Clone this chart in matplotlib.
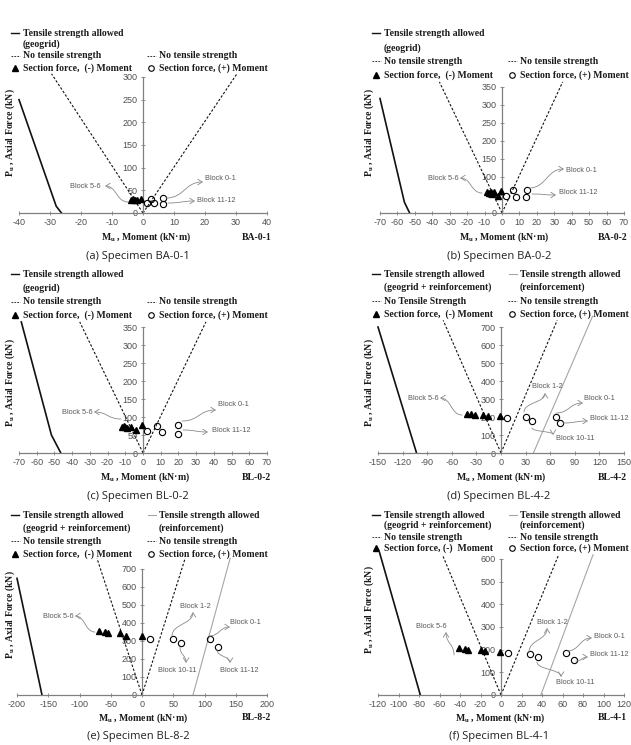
import matplotlib
matplotlib.use('Agg')
import matplotlib.pyplot as plt
from matplotlib.lines import Line2D
from matplotlib.patches import FancyArrowPatch
from matplotlib.path import Path
from matplotlib.transforms import Affine2D

# ---------------- data ----------------
# Panel (a) BA-0-1
a_tri_M = [-4.0, -3.3, -2.6, -1.9, -0.5]
a_tri_P = [29, 30, 28, 28, 30]
a_cir_M = [1.2, 2.6, 3.6, 6.5, 6.5]
a_cir_P = [23, 31, 23, 32, 20]
a_ten_M = [-40, -28, -26.3]
a_ten_P = [250, 15, 0]
a_ntl_M = [0, -29.5]
a_ntr_M = [0, 30.3]
a_nt_P = [0, 307]

# Panel (b) BA-0-2
b_tri_M = [-8.5, -7.5, -6.5, -5.5, -4.5, -2.5, -0.3]
b_tri_P = [58, 55, 58, 54, 57, 47, 60]
b_cir_M = [2.2, 6.2, 8.0, 14.0, 14.6]
b_cir_P = [47, 63, 45, 44, 65]
b_ten_M = [-70, -56, -53]
b_ten_P = [318, 30, 0]
b_ntl_M = [0, -35.9]
b_ntr_M = [0, 34.8]
b_nt_P = [0, 364]

# Panel (c) BL-0-2
c_tri_M = [-12, -11, -10, -9, -7, -4, -0.6]
c_tri_P = [73, 74, 72, 70, 73, 63, 77]
c_cir_M = [2.5, 8.1, 10.6, 19.6, 19.6]
c_cir_P = [60, 74, 57, 77, 54]
c_ten_M = [-68.7, -51.7, -46.4]
c_ten_P = [364, 50, 0]
c_ntl_M = [0, -35.7]
c_ntr_M = [0, 35.5]
c_nt_P = [0, 364]

# Panel (d) BL-4-2
d_tri_M = [-41, -37, -32, -22, -16, -1]
d_tri_P = [218, 216, 210, 212, 203, 207]
d_cir_M = [7, 30, 37.5, 66.5, 72.5]
d_cir_P = [194, 200, 178, 200, 167]
d_ten_M = [-150, -103]
d_ten_P = [700, 0]
d_rei_M = [39.5, 111.7]
d_rei_P = [0, 760]
d_ntl_M = [0, -70.5]
d_ntr_M = [0, 68.5]
d_nt_P = [0, 737]

# Panel (e) BL-8-2
e_tri_M = [-69, -59, -54, -35, -25, 0]
e_tri_P = [354, 351, 346, 342, 328, 330]
e_cir_M = [13.5, 49.5, 63, 109, 122]
e_cir_P = [311, 311, 290, 313, 265]
e_ten_M = [-200, -160]
e_ten_P = [648, 0]
e_rei_M = [81.6, 141]
e_rei_P = [0, 759]
e_ntl_M = [0, -72]
e_ntr_M = [0, 69]
e_nt_P = [0, 759]

# Panel (f) BL-4-1
f_tri_M = [-41, -35, -32, -20, -16, -1]
f_tri_P = [206, 203, 198, 200, 195, 190]
f_cir_M = [7, 28, 36, 63, 71]
f_cir_P = [185, 180, 167, 185, 154]
f_ten_M = [-118.4, -78.7]
f_ten_P = [627, 0]
f_rei_M = [38.9, 89.8]
f_rei_P = [0, 619]
f_ntl_M = [0, -57.2]
f_ntr_M = [0, 56.3]
f_nt_P = [0, 619]

captions = ["(a) Specimen BA-0-1", "(b) Specimen BA-0-2", "(c) Specimen BL-0-2",
            "(d) Specimen BL-4-2", "(e) Specimen BL-8-2", "(f) Specimen BL-4-1"]
tags = ["BA-0-1", "BA-0-2", "BL-0-2", "BL-4-2", "BL-8-2", "BL-4-1"]

# ---------------- style ----------------
W, H = 631, 745
plt.rcParams['axes.unicode_minus'] = False
plt.rcParams['mathtext.fontset'] = 'custom'
plt.rcParams['mathtext.rm'] = 'Liberation Serif:bold'
plt.rcParams['mathtext.it'] = 'Liberation Serif:bold'
plt.rcParams['mathtext.bf'] = 'Liberation Serif:bold'

fig = plt.figure(figsize=(W / 100, H / 100), dpi=100)
pix = Affine2D().scale(1 / W, -1 / H).translate(0, 1) + fig.transFigure

SERIF = 'Liberation Serif'
TXT = '#1a1a1a'
AXC = '#808080'
GRAY_LINE = '#a6a6a6'


def fx(x):
    return x / W


def fy(y):
    return 1 - y / H


def make_ax(box, xlim, ylim, xticks, yticks):
    xl, xr, yb, yt = box
    ax = fig.add_axes([fx(xl), fy(yb), (xr - xl) / W, (yb - yt) / H])
    ax.set_xlim(xlim)
    ax.set_ylim(ylim)
    ax.patch.set_visible(False)
    for s in ['top', 'right']:
        ax.spines[s].set_visible(False)
    ax.spines['left'].set_position(('data', 0))
    ax.spines['left'].set_bounds(ylim[0], ylim[1])
    for s in ['left', 'bottom']:
        ax.spines[s].set_color(AXC)
        ax.spines[s].set_linewidth(0.9)
    ax.set_xticks(xticks)
    ax.set_yticks(yticks)
    ax.tick_params(direction='inout', length=3.5, width=0.6, color=AXC,
                   labelsize=6.5, labelcolor='#505050', pad=2)
    for lab in ax.get_xticklabels() + ax.get_yticklabels():
        lab.set_family('Liberation Sans')
    return ax


def draw_data(ax, ten_M, ten_P, ntl_M, ntr_M, nt_P, tri_M, tri_P, cir_M, cir_P,
              rei_M=None, rei_P=None):
    ax.plot(ten_M, ten_P, color='#111111', lw=1.2, clip_on=False, zorder=2)
    if rei_M is not None:
        ax.plot(rei_M, rei_P, color=GRAY_LINE, lw=0.8, clip_on=False, zorder=2)
    ax.plot(ntl_M, nt_P, color='#111111', lw=0.8, ls=(0, (2.2, 1.6)), clip_on=False, zorder=2)
    ax.plot(ntr_M, nt_P, color='#111111', lw=0.8, ls=(0, (2.2, 1.6)), clip_on=False, zorder=2)
    ax.plot(tri_M, tri_P, ls='none', marker='^', ms=4.3, color='black', clip_on=False, zorder=4)
    ax.plot(cir_M, cir_P, ls='none', marker='o', ms=4.5, mfc='none', mec='black', mew=0.8,
            clip_on=False, zorder=4)


def leg_sym(kind, x, y, color='#111111'):
    if kind == 'solid':
        fig.add_artist(Line2D([x, x + 8], [y, y], transform=pix, color=color, lw=1.0))
    elif kind == 'gray':
        fig.add_artist(Line2D([x, x + 8], [y, y], transform=pix, color=GRAY_LINE, lw=0.8))
    elif kind == 'dash':
        fig.add_artist(Line2D([x, x + 9], [y, y], transform=pix, color='#333333', lw=0.7,
                              ls=(0, (1.8, 1.2))))
    elif kind == 'tri':
        fig.add_artist(Line2D([x + 4], [y], transform=pix, ls='none', marker='^', ms=4,
                              color='black'))
    elif kind == 'cir':
        fig.add_artist(Line2D([x + 4], [y], transform=pix, ls='none', marker='o', ms=4,
                              mfc='none', mec='black', mew=0.8))


def leg_text(x, y, s):
    fig.text(fx(x), fy(y), s, ha='left', va='center', family=SERIF, weight='bold',
             size=7, color=TXT)


def legend(xL, xR, rows, reinf, left_nt="No tensile strength", left_sec="Section force,  (-) Moment"):
    y1, y2, y3, y4 = rows
    leg_sym('solid', xL - 12, y1)
    leg_text(xL, y1, "Tensile strength allowed")
    if reinf:
        leg_text(xL, y2, "(geogrid + reinforcement)")
        leg_sym('gray', xR - 11, y1)
        leg_text(xR, y1, "Tensile strength allowed")
        leg_text(xR, y2, "(reinforcement)")
    else:
        leg_text(xL, y2, "(geogrid)")
    leg_sym('dash', xL - 12, y3)
    leg_text(xL, y3, left_nt)
    leg_sym('dash', xR - 12, y3)
    leg_text(xR, y3, "No tensile strength")
    leg_sym('tri', xL - 12, y4)
    leg_text(xL, y4, left_sec)
    leg_sym('cir', xR - 12, y4)
    leg_text(xR, y4, "Section force, (+) Moment")


def labels(ylab_x, ylab_y, xlab_x, xlab_y, tag_x, tag, cap_x, cap_y, cap):
    fig.text(fx(ylab_x), fy(ylab_y), r"P$_\mathrm{u}$ , Axial Force (kN)", rotation=90,
             ha='center', va='center', family=SERIF, weight='bold', size=7, color=TXT)
    fig.text(fx(xlab_x), fy(xlab_y), r"M$_\mathrm{u}$ , Moment (kN·m)",
             ha='center', va='center', family=SERIF, weight='bold', size=7, color=TXT)
    fig.text(fx(tag_x), fy(xlab_y), tag, ha='left', va='center', family=SERIF,
             weight='bold', size=7, color=TXT)
    fig.text(fx(cap_x), fy(cap_y), cap, ha='center', va='center', family='Open Sans',
             size=8, color='#222222')


def block(text, tx, ty, tail, head, mode='h'):
    fig.text(fx(tx), fy(ty), text, ha='left', va='center', family='Liberation Sans',
             size=5.3, color='#5a5a5a')
    x0, y0 = tail
    x1, y1 = head
    if mode == 'h':
        xm = (x0 + x1) / 2
        verts = [(x0, y0), (xm, y0), (xm, y1), (x1, y1)]
    else:
        ym = (y0 + y1) / 2
        verts = [(x0, y0), (x0, ym), (x1, ym), (x1, y1)]
    path = Path(verts, [Path.MOVETO, Path.CURVE4, Path.CURVE4, Path.CURVE4])
    arr = FancyArrowPatch(path=path, arrowstyle='->,head_length=0.4,head_width=0.25',
                          mutation_scale=8, color='#8a8a8a', lw=0.6, transform=pix)
    fig.add_artist(arr)


# ---------------- panel (a) ----------------
ax = make_ax((19, 267, 213, 77), (-40, 40), (0, 300), range(-40, 41, 10), range(0, 301, 50))
draw_data(ax, a_ten_M, a_ten_P, a_ntl_M, a_ntr_M, a_nt_P, a_tri_M, a_tri_P, a_cir_M, a_cir_P)
legend(23, 159, (33, 44, 56, 68), False)
labels(10, 133, 146, 237, 242, tags[0], 138, 257, captions[0])
block("Block 5-6", 70, 187, (128, 202), (105, 186))
block("Block 0-1", 205, 179, (166, 198), (203, 182))
block("Block 11-12", 197, 200, (168, 203), (195, 201))

# ---------------- panel (b) ----------------
ax = make_ax((380, 624, 213, 87), (-70, 70), (0, 350), range(-70, 71, 10), range(0, 351, 50))
draw_data(ax, b_ten_M, b_ten_P, b_ntl_M, b_ntr_M, b_nt_P, b_tri_M, b_tri_P, b_cir_M, b_cir_P)
legend(384, 520, (33, 48, 61, 75), False)
labels(369, 133, 504, 237, 598, tags[1], 499, 257, captions[1])
block("Block 5-6", 428, 178, (482, 193), (460, 178))
block("Block 0-1", 566, 170, (529, 188), (564, 169))
block("Block 11-12", 559, 193, (532, 194), (556, 195))

# ---------------- panel (c) ----------------
ax = make_ax((19, 267, 453, 327), (-70, 70), (0, 350), range(-70, 71, 10), range(0, 351, 50))
draw_data(ax, c_ten_M, c_ten_P, c_ntl_M, c_ntr_M, c_nt_P, c_tri_M, c_tri_P, c_cir_M, c_cir_P)
legend(23, 159, (274, 288, 302, 315), False)
labels(10, 383, 145, 477, 242, tags[2], 138, 497, captions[2])
block("Block 5-6", 62, 412, (121, 419), (94, 412))
block("Block 0-1", 218, 405, (182, 421), (216, 410))
block("Block 11-12", 212, 430, (183, 430), (208, 432))

# ---------------- panel (d) ----------------
ax = make_ax((378, 624, 453, 327), (-150, 150), (0, 700), range(-150, 151, 30), range(0, 701, 100))
draw_data(ax, d_ten_M, d_ten_P, d_ntl_M, d_ntr_M, d_nt_P, d_tri_M, d_tri_P, d_cir_M, d_cir_P,
          d_rei_M, d_rei_P)
legend(384, 520, (274, 287, 301, 314), True, left_nt="No Tensile Strength")
labels(369, 383, 501, 477, 598, tags[3], 499, 497, captions[3])
block("Block 5-6", 408, 398, (462, 415), (440, 398))
block("Block 1-2", 532, 387, (524, 412), (545, 393), 'v')
block("Block 0-1", 584, 399, (556, 413), (583, 403))
block("Block 11-12", 590, 418, (563, 423), (588, 421))
block("Block 10-11", 556, 439, (532, 428), (553, 435), 'v')

# ---------------- panel (e) ----------------
ax = make_ax((17, 267, 695, 569), (-200, 200), (0, 700), range(-200, 201, 50), range(0, 701, 100))
draw_data(ax, e_ten_M, e_ten_P, e_ntl_M, e_ntr_M, e_nt_P, e_tri_M, e_tri_P, e_cir_M, e_cir_P,
          e_rei_M, e_rei_P)
legend(23, 159, (515, 528, 541, 554), True)
labels(10, 615, 143, 718, 242, tags[4], 138, 737, captions[4])
block("Block 5-6", 43, 616, (95, 632), (75, 616))
block("Block 1-2", 180, 606, (172, 636), (193, 612), 'v')
block("Block 0-1", 230, 623, (209, 636), (230, 627))
block("Block 10-11", 158, 670, (180, 647), (186, 663), 'v')
block("Block 11-12", 220, 670, (217, 650), (230, 663), 'v')

# ---------------- panel (f) ----------------
ax = make_ax((378, 624, 695, 559), (-120, 120), (0, 600), range(-120, 121, 20), range(0, 601, 100))
draw_data(ax, f_ten_M, f_ten_P, f_ntl_M, f_ntr_M, f_nt_P, f_tri_M, f_tri_P, f_cir_M, f_cir_P,
          f_rei_M, f_rei_P)
legend(384, 520, (515, 525, 537, 548), True, left_sec="Section force, (-)  Moment")
labels(369, 610, 500, 718, 598, tags[5], 499, 737, captions[5])
block("Block 5-6", 416, 627, (454, 655), (446, 632), 'v')
block("Block 1-2", 537, 623, (529, 652), (547, 628), 'v')
block("Block 0-1", 594, 636, (567, 651), (592, 638))
block("Block 11-12", 590, 654, (576, 661), (588, 657))
block("Block 10-11", 556, 683, (537, 662), (561, 677), 'v')

fig.savefig('out.png', dpi=100)
